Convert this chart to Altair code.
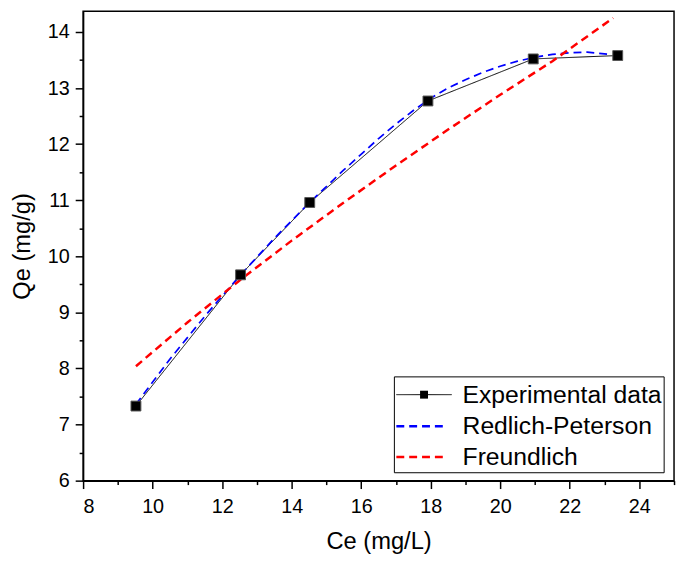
import altair as alt
import pandas as pd

# Experimental data
ce_exp = [9.52, 12.53, 14.52, 17.92, 20.95, 23.38]
qe_exp = [7.33, 9.67, 10.96, 12.77, 13.52, 13.58]

# Redlich-Peterson fitted curve
ce_rp = [9.52, 10.5, 11.5, 12.5, 13.5, 14.5, 15.5, 16.5, 17.0, 17.5, 18.0, 18.5,
         19.0, 19.5, 20.0, 20.5, 21.0, 21.5, 22.0, 22.5, 23.2]
qe_rp = [7.36, 8.17, 8.93, 9.65, 10.32, 10.95, 11.54, 12.10, 12.36, 12.60, 12.82, 13.00,
         13.15, 13.28, 13.39, 13.48, 13.55, 13.60, 13.63, 13.64, 13.60]

# Freundlich fitted curve
ce_fr = [9.52, 11.0, 12.5, 14.0, 15.5, 17.0, 18.5, 20.0, 21.5, 23.25]
qe_fr = [8.04, 8.82, 9.57, 10.28, 10.96, 11.62, 12.26, 12.88, 13.48, 14.25]

series_names = ["Experimental data", "Redlich-Peterson", "Freundlich"]
series_colors = ["#000000", "#0000ff", "#ff0000"]
series_dash = [[1, 0], [8, 5], [8, 5]]
series_width = [1, 2.5, 2.5]

x_major = [8, 10, 12, 14, 16, 18, 20, 22, 24]
x_minor = [9, 11, 13, 15, 17, 19, 21, 23, 25]
y_major = [6, 7, 8, 9, 10, 11, 12, 13, 14]
y_minor = [6.5, 7.5, 8.5, 9.5, 10.5, 11.5, 12.5, 13.5]

rows = []
for n, xs, ys in [(series_names[0], ce_exp, qe_exp),
                  (series_names[1], ce_rp, qe_rp),
                  (series_names[2], ce_fr, qe_fr)]:
    for i, (a, b) in enumerate(zip(xs, ys)):
        rows.append({"series": n, "ce": a, "qe": b, "order": i})
df = pd.DataFrame(rows)
df_exp = pd.DataFrame({"ce": ce_exp, "qe": qe_exp})

FONT = "Liberation Sans"

xscale = alt.Scale(domain=[8, 25], nice=False, zero=False)
yscale = alt.Scale(domain=[6, 14.37], nice=False, zero=False)

xaxis = alt.Axis(values=x_major, format="d", tickSize=8, orient="bottom",
                 title="Ce (mg/L)", grid=False, labelPadding=8, titlePadding=14)
yaxis = alt.Axis(values=y_major, format="d", tickSize=8, orient="left",
                 title="Qe (mg/g)", grid=False, labelPadding=6, titlePadding=13)
xaxis_minor = alt.Axis(values=x_minor, tickSize=4, orient="bottom", labels=False,
                       domain=False, title=None, grid=False)
yaxis_minor = alt.Axis(values=y_minor, tickSize=4, orient="left", labels=False,
                       domain=False, title=None, grid=False)

lines = alt.Chart(df).mark_line(clip=True).encode(
    x=alt.X("ce:Q", scale=xscale, axis=xaxis),
    y=alt.Y("qe:Q", scale=yscale, axis=yaxis),
    order="order:Q",
    color=alt.Color("series:N", scale=alt.Scale(domain=series_names, range=series_colors),
                    legend=None),
    strokeDash=alt.StrokeDash("series:N",
                              scale=alt.Scale(domain=series_names, range=series_dash),
                              legend=None),
    strokeWidth=alt.StrokeWidth("series:N",
                                scale=alt.Scale(domain=series_names, range=series_width),
                                legend=None),
)

points = alt.Chart(df_exp).mark_square(size=100, color="#000000", stroke="#555555",
                                       strokeWidth=1, opacity=1, filled=True).encode(
    x=alt.X("ce:Q", scale=xscale, axis=xaxis_minor),
    y=alt.Y("qe:Q", scale=yscale, axis=yaxis_minor),
)

# ---- hand-built legend (layout positions in pixels of the plot area) ----
one = pd.DataFrame({"k": [0]})
leg_box = [315, 588, 370, 467]
leg_rows = [388, 420, 451]
leg_sym_x = [317, 373]
leg_dash_x = [317, 366]
leg_text_x = 384

legend_layers = [
    alt.Chart(one).mark_rect(fill="#ffffff", stroke="#000000", strokeWidth=1).encode(
        x=alt.value(leg_box[0]), x2=alt.value(leg_box[1]),
        y=alt.value(leg_box[2]), y2=alt.value(leg_box[3]))
]
for i, name in enumerate(series_names):
    xr = leg_sym_x if i == 0 else leg_dash_x
    legend_layers.append(
        alt.Chart(one).mark_rule(color=series_colors[i], strokeWidth=series_width[i],
                                 strokeDash=series_dash[i]).encode(
            x=alt.value(xr[0]), x2=alt.value(xr[1]), y=alt.value(leg_rows[i]))
    )
    legend_layers.append(
        alt.Chart(pd.DataFrame({"label": [name]})).mark_text(
            align="left", baseline="middle", font=FONT, fontSize=25, color="#000000"
        ).encode(text="label:N", x=alt.value(leg_text_x), y=alt.value(leg_rows[i]))
    )
legend_layers.append(
    alt.Chart(one).mark_square(size=64, color="#000000", opacity=1, filled=True).encode(
        x=alt.value((leg_sym_x[0] + leg_sym_x[1]) / 2), y=alt.value(leg_rows[0]))
)

chart = alt.layer(lines, points, *legend_layers).resolve_axis(
    x="independent", y="independent"
).properties(
    width=598, height=475,
    padding={"left": 76, "top": 0, "right": 3, "bottom": 76},
    autosize=alt.AutoSizeParams(type="none"),
).configure_view(
    stroke="#000", strokeWidth=1.5
).configure_axis(
    domainColor="#000", domainWidth=1.5, tickColor="#000", tickWidth=1.5,
    labelFont=FONT, labelFontSize=20, labelColor="#000",
    titleFont=FONT, titleFontSize=24, titleFontWeight="normal", titleColor="#000",
)

chart.save("out.html", embed_options={"renderer": "svg", "actions": False})
